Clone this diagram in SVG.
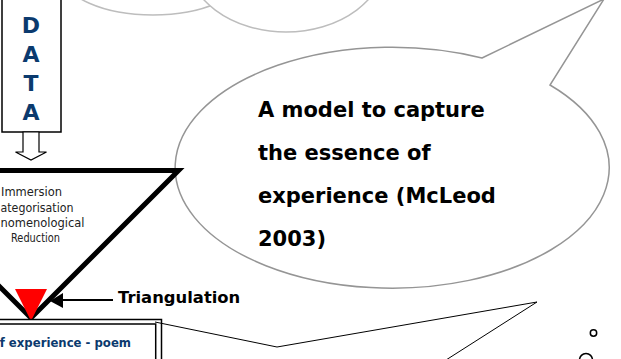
<svg xmlns="http://www.w3.org/2000/svg" width="621" height="359" viewBox="0 0 621 359">
<style>
.navy{fill:#0b3a6e;font-family:"DejaVu Sans",Verdana,sans-serif;font-weight:bold}
.proc{fill:#222;font-family:"DejaVu Sans",Verdana,sans-serif;font-size:11.7px}
.bub{fill:#000;font-family:"DejaVu Sans",Verdana,sans-serif;font-weight:bold;font-size:21px}
.cloud{fill:#fff;stroke:#bdbdbd;stroke-width:1.5}
</style>
<rect width="621" height="359" fill="#fff"/>
<g id="thought-cloud">
<ellipse class="cloud" cx="153" cy="-25" rx="90" ry="40"/>
<ellipse class="cloud" cx="286" cy="-43" rx="100" ry="75"/>
</g>
<g id="speech-bubble">
<path d="M482 58 L604 -1 L550 85 A217 120.5 0 1 1 482 58 Z" fill="#fff" stroke="#959595" stroke-width="1.5"/>
<text class="bub" x="258" y="117">A model to capture</text>
<text class="bub" x="258" y="160">the essence of</text>
<text class="bub" x="258" y="203">experience (McLeod</text>
<text class="bub" x="258" y="246">2003)</text>
</g>
<g id="data-box">
<rect x="2" y="-5" width="59" height="137" fill="#fff" stroke="#000" stroke-width="1.5"/>
<text class="navy" font-size="22" text-anchor="middle" x="31" y="33">D</text>
<text class="navy" font-size="22" text-anchor="middle" x="31" y="62">A</text>
<text class="navy" font-size="22" text-anchor="middle" x="31" y="91">T</text>
<text class="navy" font-size="22" text-anchor="middle" x="31" y="120">A</text>
</g>
<g id="analysis-triangle">
<polygon points="-116.5,170.5 178.5,170.5 31,318" fill="none" stroke="#000" stroke-width="5" stroke-miterlimit="10"/>
<text class="proc" x="1" y="196" textLength="61" lengthAdjust="spacingAndGlyphs">Immersion</text>
<text class="proc" x="0.5" y="212" textLength="73" lengthAdjust="spacingAndGlyphs">ategorisation</text>
<text class="proc" x="0.5" y="227" textLength="84" lengthAdjust="spacingAndGlyphs">nomenological</text>
<text class="proc" x="11" y="242" textLength="49" lengthAdjust="spacingAndGlyphs">Reduction</text>
<polygon points="15,289 47,289 31,321" fill="#ff0000"/>
</g>
<g id="essence-box">
<rect x="-10" y="319.5" width="171.5" height="60" fill="#fff" stroke="#000" stroke-width="1.5"/>
<rect x="-10" y="324" width="165.7" height="60" fill="#fff" stroke="#000" stroke-width="1.5"/>
<text class="navy" font-size="11.7" text-anchor="end" x="131" y="347">f experience - poem</text>
</g>
<g id="triangulation-label">
<text x="118" y="303" font-family="'DejaVu Sans',Verdana,sans-serif" font-weight="bold" font-size="16.4" fill="#000">Triangulation</text>
</g>
<g id="connectors">
<polygon points="23,132 39,132 39,152 46.5,152 31,160 15.5,152 23,152" fill="#fff" stroke="#000" stroke-width="1.2"/>
<line x1="63" y1="300" x2="113" y2="300" stroke="#000" stroke-width="2"/>
<polygon points="50,301 63,293 63,308" fill="#000"/>
<polyline points="155,322 277,347 537,302 446,360" fill="none" stroke="#000" stroke-width="1"/>
<circle cx="593.5" cy="333" r="3.2" fill="#fff" stroke="#000" stroke-width="1.5"/>
<circle cx="586" cy="360" r="6.5" fill="#fff" stroke="#000" stroke-width="1.5"/>
</g>
</svg>
